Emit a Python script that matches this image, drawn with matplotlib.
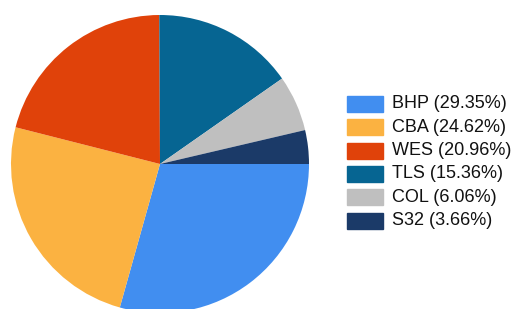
import matplotlib
matplotlib.use("Agg")
from matplotlib import pyplot as plt
from matplotlib.patches import Rectangle

# data
tickers = ["BHP", "CBA", "WES", "TLS", "COL", "S32"]
weights = [29.35, 24.62, 20.96, 15.36, 6.06, 3.66]
colors = ["#418ef0", "#fbb241", "#e0420a", "#066592", "#bfbfbf", "#1b3a68"]

plt.rcParams["font.family"] = ["Liberation Sans", "DejaVu Sans"]

W, H = 515, 309
fig = plt.figure(figsize=(W / 100, H / 100), dpi=100)

# pie axes (bottom of pie runs past the figure edge)
cx, cy, r = 160, 164, 149
ax = fig.add_axes([(cx - r) / W, (H - cy - r) / H, 2 * r / W, 2 * r / H])
ax.pie(weights, colors=colors, startangle=0, counterclock=False,
       wedgeprops=dict(linewidth=0))
ax.set_aspect("equal")
ax.set_xlim(-1, 1)
ax.set_ylim(-1, 1)
ax.axis("off")

# legend
x0, y0, pitch = 347, 96, 23.3
for i, (t, w, c) in enumerate(zip(tickers, weights, colors)):
    y = y0 + i * pitch
    fig.patches.append(Rectangle((x0 / W, 1 - (y + 16) / H), 36 / W, 16 / H,
                                 transform=fig.transFigure, color=c))
    fig.text(392 / W, 1 - (y + 8) / H, "%s (%.2f%%)" % (t, w),
             fontsize=13.0, va="center", ha="left", color="#111111")

fig.savefig("out.png", dpi=100)
